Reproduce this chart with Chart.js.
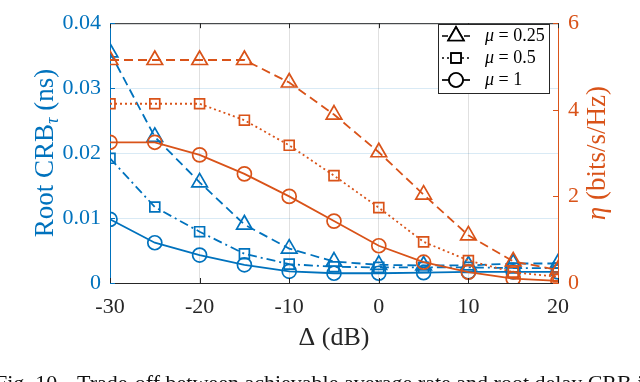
<!DOCTYPE html>
<html>
<head>
<meta charset="utf-8">
<script src="https://cdn.jsdelivr.net/npm/chart.js@4"></script>
<style>
  html, body { margin: 0; padding: 0; background: #fff; }
  #wrap { width: 640px; height: 382px; overflow: hidden; }
</style>
</head>
<body>
<div id="wrap"><canvas id="chart" width="640" height="382"></canvas></div>
<script>
// data
const deltaDb = [-30, -25, -20, -15, -10, -5, 0, 5, 10, 15, 20];

// Root CRB_tau (ns), left axis
const crbMu025 = [0.0355, 0.0225, 0.0155, 0.0090, 0.0053, 0.0033, 0.0028, 0.0027, 0.0027, 0.0030, 0.0030];
const crbMu05  = [0.0192, 0.0117, 0.0079, 0.0045, 0.0029, 0.0025, 0.0024, 0.0024, 0.0024, 0.0023, 0.0023];
const crbMu1   = [0.0098, 0.0062, 0.0043, 0.0028, 0.0018, 0.0015, 0.0015, 0.0016, 0.0017, 0.0017, 0.0017];

// eta (bits/s/Hz), right axis
const rateMu025 = [5.15, 5.15, 5.15, 5.15, 4.63, 3.89, 3.02, 2.04, 1.10, 0.50, 0.30];
const rateMu05  = [4.14, 4.14, 4.14, 3.76, 3.18, 2.48, 1.74, 0.95, 0.52, 0.25, 0.14];
const rateMu1   = [3.25, 3.25, 2.96, 2.52, 2.00, 1.43, 0.86, 0.48, 0.25, 0.10, 0.05];

const muLabels = ['0.25', '0.5', '1'];
const xTicks = [-30, -20, -10, 0, 10, 20];
const crbTicks = [0, 0.01, 0.02, 0.03, 0.04];
const rateTicks = [0, 2, 4, 6];

const BLUE = '#0072BD';
const ORANGE = '#D95319';
const DARK = '#262626';
const SERIF = '"Liberation Serif", "DejaVu Serif", serif';

const styles = [
    { point: 'triangle', radius: 9, dash: [9, 5] },
    { point: 'rect', radius: 7, dash: [2, 3] },
    { point: 'circle', radius: 7, dash: [] }
];
const blueDash = [[9, 5], [9, 4, 2, 4], []];

function toPoints(ys) {
    return deltaDb.map((x, i) => ({ x: x, y: ys[i] }));
}

function makeSet(ys, idx, color, axis, dash, order) {
    return {
        label: 'mu = ' + muLabels[idx],
        data: toPoints(ys),
        yAxisID: axis,
        borderColor: color,
        borderWidth: 1.8,
        borderDash: dash,
        pointStyle: styles[idx].point,
        pointRadius: styles[idx].radius,
        pointBorderColor: color,
        pointBackgroundColor: 'rgba(0,0,0,0)',
        pointBorderWidth: 1.7,
        tension: 0,
        order: order
    };
}

const datasets = [
    makeSet(rateMu025, 0, ORANGE, 'yR', styles[0].dash, 0),
    makeSet(rateMu05, 1, ORANGE, 'yR', styles[1].dash, 0),
    makeSet(rateMu1, 2, ORANGE, 'yR', styles[2].dash, 0),
    makeSet(crbMu025, 0, BLUE, 'yL', blueDash[0], 1),
    makeSet(crbMu05, 1, BLUE, 'yL', blueDash[1], 1),
    makeSet(crbMu1, 2, BLUE, 'yL', blueDash[2], 1)
];

function setTicks(arr) {
    return function (scale) {
        scale.ticks = arr.map(v => ({ value: v }));
    };
}

// titles, inward ticks, top border, legend box and caption
const extras = {
    id: 'extras',
    afterDatasetsDraw(chart) {
        const ctx = chart.ctx;
        const a = chart.chartArea;
        const sx = chart.scales.x, sl = chart.scales.yL, sr = chart.scales.yR;
        ctx.save();

        // top border
        ctx.strokeStyle = DARK;
        ctx.lineWidth = 1;
        ctx.beginPath();
        ctx.moveTo(a.left, a.top + 0.5);
        ctx.lineTo(a.right, a.top + 0.5);
        ctx.stroke();

        // inward ticks
        xTicks.forEach(v => {
            const px = Math.round(sx.getPixelForValue(v)) + 0.5;
            ctx.beginPath();
            ctx.moveTo(px, a.bottom); ctx.lineTo(px, a.bottom - 5);
            ctx.moveTo(px, a.top); ctx.lineTo(px, a.top + 5);
            ctx.stroke();
        });
        ctx.strokeStyle = BLUE;
        crbTicks.forEach(v => {
            const py = Math.round(sl.getPixelForValue(v)) + 0.5;
            ctx.beginPath();
            ctx.moveTo(a.left, py); ctx.lineTo(a.left + 5, py);
            ctx.stroke();
        });
        ctx.strokeStyle = ORANGE;
        rateTicks.forEach(v => {
            const py = Math.round(sr.getPixelForValue(v)) + 0.5;
            ctx.beginPath();
            ctx.moveTo(a.right, py); ctx.lineTo(a.right - 5, py);
            ctx.stroke();
        });

        // x title
        ctx.fillStyle = DARK;
        ctx.font = '26px ' + SERIF;
        ctx.textAlign = 'center';
        ctx.textBaseline = 'middle';
        ctx.fillText('\u0394 (dB)', (a.left + a.right) / 2, 338);

        // left title, rotated, with subscript tau
        ctx.save();
        ctx.translate(44, (a.top + a.bottom) / 2);
        ctx.rotate(-Math.PI / 2);
        ctx.fillStyle = BLUE;
        ctx.textAlign = 'left';
        ctx.textBaseline = 'alphabetic';
        const big = '27px ' + SERIF, small = 'italic 18px ' + SERIF;
        ctx.font = big;
        const w1 = ctx.measureText('Root CRB').width;
        const w3 = ctx.measureText(' (ns)').width;
        ctx.font = small;
        const w2 = ctx.measureText('\u03C4').width;
        let cx = -(w1 + w2 + w3) / 2;
        ctx.font = big;
        ctx.fillText('Root CRB', cx, 9);
        ctx.font = small;
        ctx.fillText('\u03C4', cx + w1, 14);
        ctx.font = big;
        ctx.fillText(' (ns)', cx + w1 + w2, 9);
        ctx.restore();

        // right title, rotated
        ctx.save();
        ctx.translate(596, (a.top + a.bottom) / 2);
        ctx.rotate(-Math.PI / 2);
        ctx.fillStyle = ORANGE;
        ctx.textAlign = 'left';
        ctx.textBaseline = 'alphabetic';
        ctx.font = 'italic 27px ' + SERIF;
        const e1 = ctx.measureText('\u03B7').width;
        ctx.font = '27px ' + SERIF;
        const e2 = ctx.measureText(' (bits/s/Hz)').width;
        cx = -(e1 + e2) / 2;
        ctx.font = 'italic 27px ' + SERIF;
        ctx.fillText('\u03B7', cx, 9);
        ctx.font = '27px ' + SERIF;
        ctx.fillText(' (bits/s/Hz)', cx + e1, 9);
        ctx.restore();

        // legend
        const bx = 438, by = 24, bw = 111, bh = 69;
        ctx.fillStyle = '#fff';
        ctx.fillRect(bx, by, bw, bh);
        ctx.strokeStyle = DARK;
        ctx.lineWidth = 1;
        ctx.strokeRect(bx + 0.5, by + 0.5, bw, bh);
        muLabels.forEach((lab, i) => {
            const y = by + 12 + i * 22;
            ctx.strokeStyle = '#000';
            ctx.lineWidth = 1.7;
            ctx.setLineDash(i === 0 ? [6, 16, 6] : styles[i].dash);
            ctx.beginPath();
            ctx.moveTo(bx + 4, y);
            ctx.lineTo(bx + 32, y);
            ctx.stroke();
            ctx.setLineDash([]);
            Chart.helpers.drawPoint(ctx, {
                pointStyle: styles[i].point,
                radius: styles[i].radius,
                rotation: 0,
                borderWidth: 1.7
            }, bx + 18, y);
            ctx.fillStyle = '#fff';
            ctx.fill();
            ctx.stroke();
            ctx.fillStyle = '#000';
            ctx.textAlign = 'left';
            ctx.textBaseline = 'middle';
            ctx.font = 'italic 18px ' + SERIF;
            ctx.fillText('\u03BC', bx + 47, y);
            const mw = ctx.measureText('\u03BC').width;
            ctx.font = '18px ' + SERIF;
            ctx.fillText(' = ' + lab, bx + 47 + mw, y);
        });

        // caption (cut off by the page edge, as in the source)
        ctx.fillStyle = '#111';
        ctx.font = '22px ' + SERIF;
        ctx.textAlign = 'left';
        ctx.textBaseline = 'alphabetic';
        ctx.fillText('Fig. 10.', -5, 390);
        ctx.fillText('Trade-off between achievable average rate and root delay CRB in', 77, 390);

        ctx.restore();
    }
};

const chart = new Chart(document.getElementById('chart'), {
    type: 'line',
    data: { datasets: datasets },
    plugins: [extras],
    options: {
        responsive: false,
        devicePixelRatio: 1,
        animation: false,
        layout: { padding: { top: 12, left: 0, right: 0, bottom: 0 } },
        plugins: { legend: { display: false }, tooltip: { enabled: false } },
        scales: {
            x: {
                type: 'linear',
                min: -30, max: 20,
                afterBuildTicks: setTicks(xTicks),
                afterFit: s => { s.height = 99; },
                grid: { color: 'rgba(38,38,38,0.14)', drawTicks: false },
                border: { color: DARK, width: 1 },
                ticks: { color: DARK, padding: 11, font: { family: SERIF, size: 22 } }
            },
            yL: {
                position: 'left',
                min: 0, max: 0.04,
                afterBuildTicks: setTicks(crbTicks),
                afterFit: s => { s.width = 110; },
                grid: { color: 'rgba(0,114,189,0.15)', drawTicks: false },
                border: { color: BLUE, width: 1 },
                ticks: {
                    color: BLUE, padding: 9,
                    font: { family: SERIF, size: 22 },
                    callback: v => v === 0 ? '0' : v.toFixed(2)
                }
            },
            yR: {
                position: 'right',
                min: 0, max: 6,
                afterBuildTicks: setTicks(rateTicks),
                afterFit: s => { s.width = 82; },
                grid: { display: false, drawTicks: false },
                border: { color: ORANGE, width: 1 },
                ticks: { color: ORANGE, padding: 10, font: { family: SERIF, size: 22 } }
            }
        }
    }
});
</script>
</body>
</html>
